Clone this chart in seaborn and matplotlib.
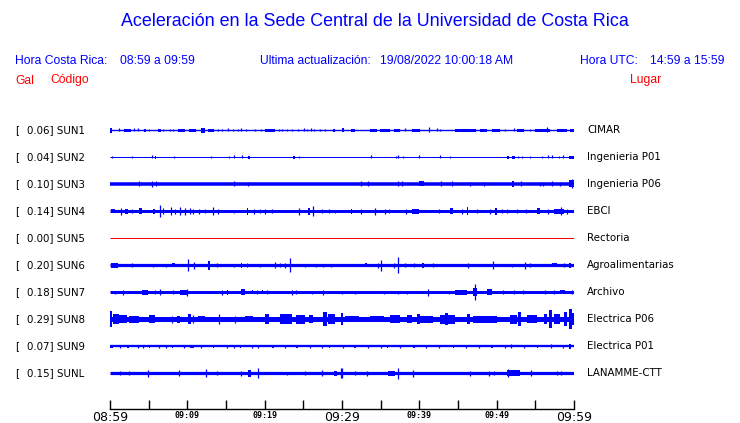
import matplotlib
matplotlib.use("Agg")
import matplotlib.pyplot as plt
import seaborn as sns

# ---------------- data ----------------
title = "Aceleración en la Sede Central de la Universidad de Costa Rica"
hora_cr = "08:59 a 09:59"
hora_utc = "14:59 a 15:59"
actualizacion = "19/08/2022 10:00:18 AM"

codes = ["SUN1", "SUN2", "SUN3", "SUN4", "SUN5", "SUN6", "SUN7", "SUN8", "SUN9", "SUNL"]
peaks = ["0.06", "0.04", "0.10", "0.14", "0.00", "0.20", "0.18", "0.29", "0.07", "0.15"]
places = ["CIMAR", "Ingenieria P01", "Ingenieria P06", "EBCI", "Rectoria",
          "Agroalimentarias", "Archivo", "Electrica P06", "Electrica P01", "LANAMME-CTT"]
# background trace thickness (pixels)
base_px = [1.4, 1.0, 3.5, 3.0, 1.0, 3.2, 3.0, 5.0, 2.3, 3.2]

tick_minutes = [0, 5, 10, 15, 20, 25, 30, 35, 40, 45, 50, 55, 60]
major_labels = {0: "08:59", 30: "09:29", 60: "09:59"}
minor_labels = {10: "09:09", 20: "09:19", 40: "09:39", 50: "09:49"}

# bursts: (start minute, end minute, full height in pixels)
ev_sun1 = [(0.0, 0.2, 5), (1.16, 1.16, 3), (1.85, 2.7, 3), (3.06, 3.06, 3), (3.58, 3.58, 3),
           (4.4, 4.7, 3), (5.05, 5.05, 2), (6.2, 6.6, 3), (6.9, 6.9, 2), (7.7, 7.7, 2),
           (8.2, 8.2, 2), (8.8, 9.7, 3), (10.2, 11.1, 3), (11.8, 12.3, 5), (12.7, 13.5, 3),
           (14.0, 14.0, 2), (14.5, 14.5, 2), (15.3, 15.3, 3), (15.9, 15.9, 2), (16.6, 16.6, 2),
           (17.0, 17.0, 3), (17.6, 17.6, 2), (18.8, 18.8, 2), (19.5, 19.5, 2), (20.1, 21.4, 3),
           (21.9, 21.9, 2), (22.2, 22.2, 2), (22.9, 22.9, 2), (23.5, 23.5, 2), (24.3, 24.3, 2),
           (25.1, 25.1, 3), (25.5, 25.5, 2), (26.0, 26.0, 3), (26.4, 26.4, 2), (27.2, 27.2, 2),
           (27.8, 27.8, 2), (28.8, 29.1, 3), (30.0, 30.3, 4), (31.1, 31.7, 3), (33.6, 34.5, 3),
           (34.9, 36.2, 3), (36.7, 37.5, 3), (38.2, 38.2, 3), (39.0, 40.1, 3), (41.2, 41.2, 5),
           (42.3, 42.3, 3), (42.7, 42.7, 2), (44.6, 47.3, 3), (47.9, 48.8, 3), (49.4, 50.4, 3),
           (51.1, 51.1, 2), (52.2, 52.2, 3), (52.6, 53.5, 3), (54.3, 54.3, 2), (55.0, 56.9, 3),
           (56.5, 56.5, 5), (57.8, 59.1, 3), (59.5, 60.0, 3)]
ev_sun2 = [(0.3, 0.3, 2), (2.9, 2.9, 2), (5.4, 5.4, 3), (5.8, 6.0, 3), (8.3, 8.3, 2),
           (13.1, 13.1, 2), (15.4, 15.4, 2), (16.0, 16.0, 3), (17.1, 17.1, 3), (17.9, 18.1, 3),
           (23.7, 23.9, 3), (24.4, 24.4, 2), (33.7, 33.7, 3), (37.0, 37.0, 2), (37.3, 37.3, 3),
           (37.9, 37.9, 2), (40.0, 40.0, 3), (42.7, 42.7, 3), (44.0, 44.0, 2), (51.3, 51.6, 3),
           (52.0, 52.4, 3), (52.8, 52.8, 2), (53.3, 53.3, 2), (54.3, 54.3, 2), (55.8, 55.8, 2),
           (56.6, 56.6, 3), (57.1, 57.1, 3), (58.0, 58.0, 2), (58.6, 58.6, 3), (59.3, 60.0, 3)]
ev_sun3 = [(3.8, 3.8, 5), (5.4, 5.4, 6), (5.9, 5.9, 5), (16.0, 16.0, 5), (17.8, 17.8, 4),
           (32.4, 32.4, 5), (33.3, 33.3, 5), (37.2, 37.2, 5), (37.7, 37.7, 5), (40.0, 40.6, 5),
           (42.8, 42.8, 5), (44.2, 44.2, 5), (46.5, 46.5, 4), (48.3, 48.3, 4), (52.0, 52.2, 6),
           (53.2, 53.2, 5), (55.6, 55.6, 4), (56.0, 56.0, 4), (57.2, 57.2, 5), (58.2, 58.2, 4),
           (59.4, 60.0, 7), (59.7, 59.7, 9)]
ev_sun4 = [(0.1, 0.6, 4), (1.4, 1.4, 7), (1.9, 2.3, 5), (2.8, 2.8, 4), (3.8, 4.2, 6),
           (5.5, 5.8, 5), (6.5, 6.5, 12), (6.9, 6.9, 6), (7.9, 7.9, 8), (8.4, 8.4, 5),
           (9.1, 9.1, 8), (9.7, 9.7, 7), (10.3, 10.3, 6), (10.7, 10.7, 5), (11.5, 11.5, 5),
           (12.3, 12.3, 4), (13.3, 13.3, 8), (14.0, 14.0, 5), (16.0, 16.0, 3), (17.7, 17.9, 7),
           (18.6, 18.6, 5), (19.4, 19.4, 4), (20.1, 20.1, 5), (20.9, 20.9, 4), (24.5, 24.5, 7),
           (25.6, 25.8, 7), (26.3, 26.3, 10), (27.4, 27.4, 4), (28.3, 28.3, 4), (29.1, 29.1, 3),
           (31.1, 31.3, 5), (32.4, 32.4, 5), (34.3, 34.3, 7), (35.6, 35.6, 5), (36.1, 36.1, 4),
           (38.3, 38.3, 5), (39.0, 39.9, 5), (42.6, 42.6, 4), (44.0, 44.3, 6), (45.5, 45.5, 5),
           (46.1, 46.3, 8), (47.5, 47.5, 4), (49.2, 49.2, 5), (49.8, 50.0, 7), (50.7, 50.7, 4),
           (51.4, 51.4, 4), (52.6, 52.6, 4), (53.8, 53.8, 4), (55.2, 55.6, 6), (56.6, 56.6, 5),
           (57.4, 58.7, 5), (58.3, 58.3, 8), (59.1, 59.1, 5)]
ev_sun5 = []
ev_sun6 = [(0.1, 1.0, 5), (2.9, 2.9, 4), (5.5, 5.5, 3), (7.2, 7.2, 3), (8.0, 8.4, 4),
           (10.1, 10.1, 12), (10.8, 10.8, 7), (12.7, 12.9, 9), (13.8, 13.8, 4), (16.0, 16.0, 3),
           (16.9, 17.1, 5), (17.7, 17.7, 4), (19.4, 19.4, 3), (21.4, 21.4, 6), (22.0, 22.0, 4),
           (22.6, 22.6, 5), (23.3, 23.3, 14), (25.2, 25.2, 3), (26.7, 26.7, 3), (27.6, 27.6, 3),
           (28.6, 28.6, 3), (33.0, 33.2, 4), (34.6, 34.6, 5), (35.1, 35.1, 11), (36.7, 36.7, 5),
           (37.3, 37.3, 16), (38.2, 38.2, 4), (39.3, 39.3, 4), (40.4, 40.6, 5), (41.8, 41.8, 4),
           (46.3, 46.3, 5), (49.5, 49.5, 8), (52.0, 52.0, 3), (53.6, 53.6, 7), (54.3, 54.3, 4),
           (57.1, 57.8, 4), (58.7, 58.7, 4), (59.4, 59.6, 5)]
ev_sun7 = [(0.7, 0.7, 3), (1.7, 1.7, 5), (4.1, 4.9, 5), (5.8, 5.8, 4), (6.5, 6.5, 6),
           (8.2, 8.2, 4), (9.1, 10.1, 5), (10.0, 10.0, 7), (14.5, 14.5, 5), (15.1, 15.3, 5),
           (17.0, 17.5, 6), (18.3, 18.5, 4), (19.0, 19.0, 4), (19.6, 19.8, 4), (20.3, 20.3, 4),
           (23.5, 23.5, 5), (24.1, 24.1, 4), (26.1, 26.1, 3), (27.6, 27.6, 5), (30.0, 30.0, 3),
           (31.7, 31.7, 3), (35.4, 35.4, 3), (37.3, 37.3, 3), (38.4, 38.4, 3), (41.1, 41.1, 7),
           (43.8, 43.8, 3), (44.6, 46.1, 5), (47.0, 47.5, 8), (47.25, 47.25, 16), (48.7, 49.4, 6),
           (50.8, 50.8, 4), (52.2, 52.2, 4), (53.4, 53.4, 4), (56.3, 56.3, 4), (57.4, 57.4, 4),
           (58.2, 58.8, 4), (59.7, 59.7, 4)]
ev_sun8 = [(0.0, 0.2, 16), (0.4, 1.1, 10), (1.1, 2.2, 8), (2.4, 3.7, 7), (5.0, 5.8, 8),
           (8.0, 8.0, 7), (8.6, 9.1, 7), (10.1, 10.5, 10), (10.7, 10.7, 8), (11.4, 12.3, 6),
           (14.1, 14.1, 10), (16.1, 16.1, 7), (17.5, 18.5, 6), (20.1, 20.6, 10), (22.0, 23.5, 10),
           (24.1, 25.2, 9), (25.7, 26.3, 8), (27.6, 28.0, 14), (28.2, 29.1, 10), (29.9, 30.1, 12),
           (30.4, 32.2, 6), (33.6, 35.4, 6), (36.2, 37.5, 8), (38.4, 39.0, 8), (39.7, 40.1, 10),
           (40.1, 41.8, 7), (42.7, 44.6, 9), (43.3, 43.7, 12), (46.1, 46.5, 10), (47.0, 50.0, 7),
           (51.7, 52.6, 9), (52.8, 53.2, 14), (53.9, 55.2, 8), (56.1, 56.5, 10), (56.8, 57.2, 18),
           (57.4, 58.2, 10), (58.7, 59.1, 14), (59.3, 59.7, 20), (59.7, 60.0, 12)]
ev_sun9 = [(0.0, 0.4, 3), (1.3, 1.3, 3), (2.2, 2.4, 3), (3.6, 3.6, 3), (4.3, 4.3, 3),
           (5.0, 5.2, 3), (6.3, 6.3, 3), (7.2, 7.2, 3), (8.0, 8.2, 3), (9.6, 9.6, 3),
           (10.4, 10.8, 3), (11.8, 11.8, 3), (13.3, 13.5, 3), (15.1, 15.1, 3), (16.0, 16.0, 3),
           (16.8, 17.0, 3), (18.3, 18.3, 3), (19.2, 19.2, 3), (21.0, 21.2, 3), (22.6, 22.6, 3),
           (24.0, 24.3, 3), (25.8, 25.8, 3), (27.4, 27.4, 3), (28.3, 28.5, 3), (30.1, 30.1, 3),
           (31.6, 31.8, 3), (33.3, 33.3, 3), (35.0, 35.0, 3), (35.8, 36.0, 3), (37.5, 37.5, 3),
           (39.2, 39.4, 3), (40.9, 40.9, 3), (42.6, 42.6, 3), (44.3, 44.5, 3), (46.0, 46.0, 3),
           (47.7, 47.7, 3), (49.3, 49.5, 3), (51.1, 51.1, 3), (51.9, 51.9, 4), (53.5, 53.5, 3),
           (55.2, 55.4, 3), (57.0, 57.0, 4), (58.6, 58.6, 3), (59.4, 59.6, 5)]
ev_sunl = [(1.3, 1.3, 4), (2.4, 2.4, 4), (4.9, 4.9, 7), (8.9, 8.9, 6), (12.4, 12.4, 8),
           (13.9, 13.9, 4), (17.0, 17.0, 5), (17.9, 18.2, 7), (19.2, 19.2, 10), (22.9, 22.9, 3),
           (25.2, 25.2, 4), (27.4, 27.4, 6), (29.0, 29.3, 5), (29.9, 29.9, 10), (30.0, 30.0, 10),
           (31.7, 31.7, 4), (33.2, 33.2, 5), (36.0, 36.9, 5), (37.3, 37.3, 11), (39.2, 39.2, 7),
           (46.5, 46.5, 5), (49.0, 49.0, 5), (49.7, 49.7, 4), (51.3, 53.0, 6), (51.5, 51.5, 8),
           (54.4, 54.4, 6), (57.8, 57.8, 4), (58.3, 58.3, 4)]
events = [ev_sun1, ev_sun2, ev_sun3, ev_sun4, ev_sun5, ev_sun6, ev_sun7, ev_sun8, ev_sun9, ev_sunl]

# ---------------- style ----------------
sns.set_theme(style="white")
plt.rcParams["font.family"] = ["DejaVu Sans"]

W, H = 740, 423
fig = plt.figure(figsize=(W / 100, H / 100), dpi=100)
fig.patch.set_facecolor("white")

BLUE = "#0000ff"
RED = "#ff0000"

def fx(px):
    return px / W

def fy(py):
    return 1 - py / H

# axes covering trace area: x in minutes, y in pixel rows from top
x0, x1 = 110, 574
y_axis, y_top = 409, 110
ax = fig.add_axes([fx(x0), fy(y_axis), (x1 - x0) / W, (y_axis - y_top) / H])
ax.set_xlim(0, 60)
ax.set_ylim(y_axis, y_top)
ax.set_facecolor("white")

row0, dy = 130, 27
px2pt = 72 / 100
for i, code in enumerate(codes):
    r = row0 + i * dy
    color = RED if peaks[i] == "0.00" else BLUE
    sns.lineplot(x=[0, 60], y=[r, r], ax=ax, color=color,
                 linewidth=base_px[i] * px2pt, legend=False,
                 solid_capstyle="butt")
    for (t0, t1, h) in events[i]:
        if t1 - t0 < 0.05:
            ax.vlines(t0, r - h / 2, r + h / 2, color=color, linewidth=0.9)
        else:
            ax.fill_between([t0, t1], r - h / 2, r + h / 2, color=color,
                            linewidth=0)

# spines and ticks
for s in ["top", "left", "right"]:
    ax.spines[s].set_visible(False)
ax.spines["bottom"].set_color("black")
ax.spines["bottom"].set_linewidth(1.0)
ax.set_yticks([])
ax.set_xticks(tick_minutes)
ax.set_xticklabels([])
ax.tick_params(axis="x", direction="in", length=9 * px2pt, width=1.0, color="black",
               bottom=True)
ax.set_xlabel("")
ax.set_ylabel("")

for m, lab in major_labels.items():
    ax.text(m, 417.5, lab, ha="center", va="center", fontsize=9, color="black",
            family="DejaVu Sans", clip_on=False)
for m, lab in minor_labels.items():
    ax.text(m, 415.5, lab, ha="center", va="center", fontsize=6, color="black",
            family="DejaVu Sans Mono", fontweight="bold", clip_on=False)

# row labels
for i, code in enumerate(codes):
    r = row0 + i * dy
    fig.text(fx(15), fy(r), "[", ha="left", va="center", fontsize=7.4, color="black")
    fig.text(fx(27), fy(r), f"{peaks[i]}] {code}", ha="left", va="center",
             fontsize=7.4, color="black")
    fig.text(fx(587), fy(r), places[i], ha="left", va="center", fontsize=7.4,
             color="black")

# header
hf = "Liberation Sans"
hs = 8.7
fig.text(fx(375), fy(22), title, ha="center", va="center", fontsize=12.9,
         color=BLUE, family=hf)
fig.text(fx(15), fy(60.5), "Hora Costa Rica:", ha="left", va="center", fontsize=hs,
         color=BLUE, family=hf)
fig.text(fx(120), fy(60.5), hora_cr, ha="left", va="center", fontsize=hs,
         color=BLUE, family=hf)
fig.text(fx(260), fy(60.5), "Ultima actualización:", ha="left", va="center",
         fontsize=hs, color=BLUE, family=hf)
fig.text(fx(380), fy(60.5), actualizacion, ha="left", va="center", fontsize=hs,
         color=BLUE, family=hf)
fig.text(fx(580.5), fy(60.5), "Hora UTC:", ha="left", va="center", fontsize=hs,
         color=BLUE, family=hf)
fig.text(fx(650.5), fy(60.5), hora_utc, ha="left", va="center", fontsize=hs,
         color=BLUE, family=hf)
fig.text(fx(15), fy(80.5), "Gal", ha="left", va="center", fontsize=hs,
         color=RED, family=hf)
fig.text(fx(50), fy(80.5), "Código", ha="left", va="center", fontsize=hs,
         color=RED, family=hf)
fig.text(fx(630), fy(80.5), "Lugar", ha="left", va="center", fontsize=hs,
         color=RED, family=hf)

fig.savefig("out.png", dpi=100, facecolor="white")
